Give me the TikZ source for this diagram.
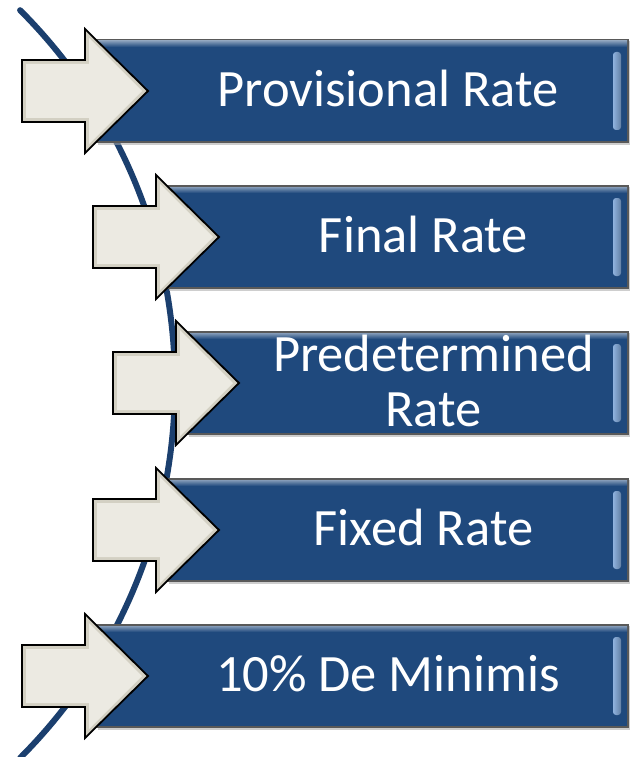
\documentclass[tikz,border=0pt]{standalone}
\usepackage{fontspec}
\setmainfont{Carlito}
\definecolor{boxblue}{HTML}{1F497D}
\definecolor{curveblue}{HTML}{1B3F6E}
\definecolor{hilite}{HTML}{8FB2DE}
\definecolor{arrowfill}{HTML}{ECEAE2}
\definecolor{arrowedge}{HTML}{D3D0C3}
\tikzset{
  boxshadow/.style={fill=black!35, opacity=0.55},
  bluebox/.style={fill=boxblue, draw=black!65, line width=1.3pt},
  arrowout/.style={fill=arrowedge},
  arrowin/.style={fill=arrowfill},
  arrowline/.style={draw=black, line width=1.8pt, line join=miter},
  ratetext/.style={text=white, font=\fontsize{52.5}{55}\selectfont, inner sep=0pt, align=center, yshift=2.5pt},
  curve/.style={draw=curveblue, line width=6pt, line cap=round}
}
\newcommand\rateitem[4]{%
  % #1 name, #2 arrow left x, #3 center y, #4 text
  \pgfmathsetmacro\bl{#2+75}
  \pgfmathsetmacro\tipx{#2+126}
  \pgfmathsetmacro\tx{(#2+126+628)/2}
  \fill[boxshadow] (\bl+1,#3-50) rectangle (630,#3+54);
  \path[bluebox] (\bl,#3-51) rectangle (628,#3+51);
  \shade[top color=boxblue!55!white, bottom color=boxblue] (\bl+1,#3-50) rectangle (627,#3-44);
  \shade[left color=hilite, right color=boxblue!70!white, rounded corners=3pt] (613,#3-39) rectangle (621,#3+39);
  \path[arrowout] (#2,#3-31) -- (#2+63,#3-31) -- (#2+63,#3-62) -- (\tipx,#3) -- (#2+63,#3+62) -- (#2+63,#3+31) -- (#2,#3+31) -- cycle;
  \path[arrowin] (#2+4,#3-27) -- (#2+67,#3-27) -- (#2+67,#3-53) -- (\tipx-6,#3) -- (#2+67,#3+53) -- (#2+67,#3+27) -- (#2+4,#3+27) -- cycle;
  \path[arrowline] (#2,#3-31) -- (#2+63,#3-31) -- (#2+63,#3-62) -- (\tipx,#3) -- (#2+63,#3+62) -- (#2+63,#3+31) -- (#2,#3+31) -- cycle;
  \node[ratetext] (#1) at (\tx,#3) {#4};
}
\begin{document}
\begin{tikzpicture}[x=1pt,y=-1pt]
\useasboundingbox (0,0) rectangle (635,757);
\fill[white] (0,0) rectangle (635,757);
\path[curve] (20.1,10.2) arc[start angle=-45, end angle=45, radius=528.7];
\rateitem{provisional}{22}{91}{Provisional Rate}
\rateitem{final}{93}{237}{Final Rate}
\rateitem{predetermined}{113}{383}{Predetermined\\Rate}
\rateitem{fixed}{93}{530}{Fixed Rate}
\rateitem{deminimis}{22}{676}{10\% De Minimis}
\end{tikzpicture}
\end{document}
